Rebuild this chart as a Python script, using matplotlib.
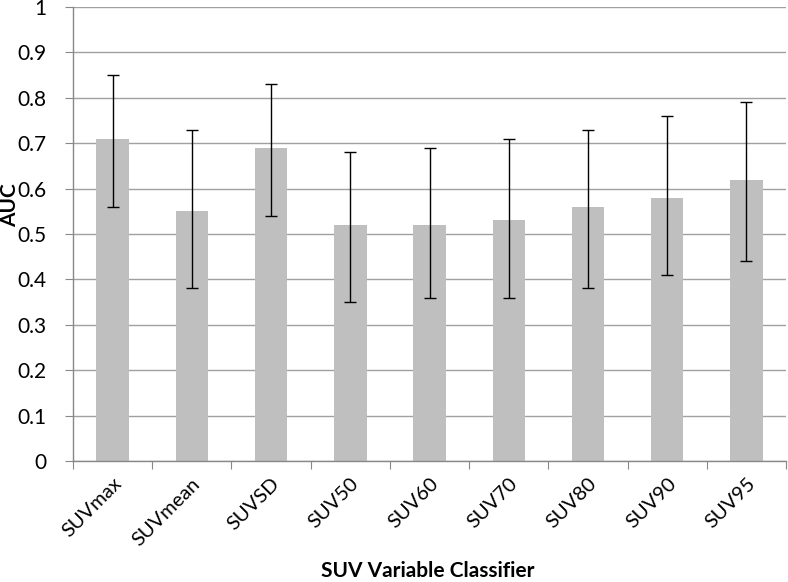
import matplotlib
matplotlib.use("Agg")
import matplotlib.pyplot as plt
import numpy as np

categories = ["SUVmax", "SUVmean", "SUVSD", "SUV50", "SUV60", "SUV70", "SUV80", "SUV90", "SUV95"]
auc = [0.71, 0.55, 0.69, 0.52, 0.52, 0.53, 0.56, 0.58, 0.62]
ci_low = [0.56, 0.38, 0.54, 0.35, 0.36, 0.36, 0.38, 0.41, 0.44]
ci_high = [0.85, 0.73, 0.83, 0.68, 0.69, 0.71, 0.73, 0.76, 0.79]
yticks = [0, 0.1, 0.2, 0.3, 0.4, 0.5, 0.6, 0.7, 0.8, 0.9, 1]
ytick_labels = ["0", "0.1", "0.2", "0.3", "0.4", "0.5", "0.6", "0.7", "0.8", "0.9", "1"]

plt.rcParams['font.family'] = ['Lato', 'DejaVu Sans']

fig = plt.figure(figsize=(7.88, 5.82), dpi=100)
ax = fig.add_axes([0.0926, 0.2079, 0.905, 0.7800])

x = np.arange(len(categories))
auc_a = np.array(auc)
yerr = np.vstack([auc_a - np.array(ci_low), np.array(ci_high) - auc_a])

ax.bar(x, auc, width=0.41, color="#bfbfbf", zorder=2)
ax.errorbar(x, auc, yerr=yerr, fmt='none', ecolor='black', elinewidth=1.0,
            capsize=4, capthick=1.0, zorder=3)

ax.set_xlim(-0.5, len(categories) - 0.5)
ax.set_ylim(0, 1)
ax.set_yticks(yticks)
ax.set_yticklabels(ytick_labels, fontsize=15)
ax.yaxis.grid(True, color="#a0a0a0", linewidth=1.0, zorder=0)
ax.set_axisbelow(True)

ax.set_xticks(np.arange(len(categories) + 1) - 0.5)
ax.set_xticklabels([])
ax.set_xticks(x, minor=True)
ax.set_xticklabels(categories, minor=True, rotation=45, ha='right',
                   rotation_mode='anchor', fontsize=14.5)
ax.tick_params(axis='x', which='minor', length=0, pad=10)
ax.tick_params(axis='x', which='major', length=6, color="#888888")
ax.tick_params(axis='y', length=6, color="#888888", pad=13)

for s in ['top', 'right']:
    ax.spines[s].set_visible(False)
for s in ['left', 'bottom']:
    ax.spines[s].set_color("#888888")
    ax.spines[s].set_linewidth(1.0)

fig.text(10 / 788, 1 - 205 / 582, "AUC", rotation=90, ha='center', va='center',
         fontsize=15, fontweight='bold')
fig.text(428 / 788, 1 - 571 / 582, "SUV Variable Classifier", ha='center', va='center',
         fontsize=15, fontweight='bold')

fig.savefig("out.png", dpi=100)
